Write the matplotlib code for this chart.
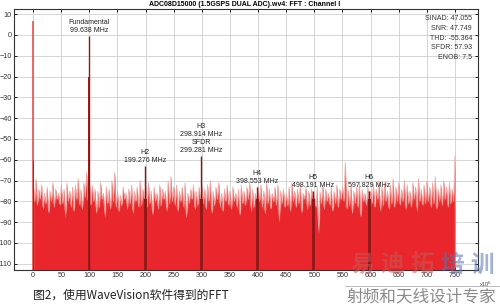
import numpy as np
import matplotlib
matplotlib.use('Agg')
from matplotlib import pyplot as plt

plt.rcParams['font.family'] = ['Liberation Sans', 'DejaVu Sans']

# noise floor: spike tops every 5 MHz (0..750)
peak_db = [
    -70, -69, -74, -72, -76, -73, -75, -71, -74, -76, -72,
    -74, -71, -75, -73, -72, -69, -74, -71, -66, -70,
    -72, -74, -75, -71, -76, -73, -74, -70, -66, -75,
    -77, -73, -76, -74, -72, -75, -73, -70, -74, -72,
    -71, -75, -73, -76, -72, -74, -75, -70, -68, -73,
    -72, -75, -73, -71, -76, -74, -72, -75, -73, -72,
    -74, -72, -70, -75, -73, -71, -76, -74, -72, -75,
    -73, -76, -74, -72, -75, -73, -71, -74, -76, -73,
    -72, -75, -71, -74, -76, -73, -72, -75, -74, -76,
    -73, -71, -75, -74, -72, -76, -73, -75, -74, -77,
    -73, -75, -72, -74, -76, -73, -75, -72, -74, -73,
    -61, -74, -72, -75, -73, -71, -74, -76, -73, -75,
    -72, -74, -70, -73, -71, -75, -72, -69, -73, -71,
    -74, -70, -72, -75, -71, -73, -69, -74, -72, -70,
    -73, -71, -68, -74, -72, -70, -73, -71, -74, -58,
]
# notches between the spikes (2.5, 7.5, ... 747.5 MHz)
valley_db = [
    -80, -82, -79, -84, -81, -86, -80, -83, -79, -82,
    -81, -88, -80, -83, -85, -79, -82, -84, -78, -80,
    -82, -80, -86, -83, -79, -88, -81, -84, -80, -83,
    -85, -82, -79, -84, -81, -86, -80, -83, -82, -79,
    -83, -81, -87, -80, -84, -82, -79, -85, -81, -80,
    -82, -85, -80, -83, -88, -81, -79, -84, -82, -80,
    -81, -84, -80, -86, -82, -79, -83, -85, -80, -82,
    -84, -80, -83, -87, -81, -82, -79, -85, -83, -81,
    -80, -83, -86, -81, -84, -80, -82, -90, -81, -83,
    -82, -85, -80, -83, -81, -86, -79, -84, -82, -80,
    -83, -96, -81, -84, -80, -82, -85, -81, -83, -79,
    -80, -84, -82, -86, -81, -83, -88, -80, -82, -84,
    -81, -83, -79, -85, -82, -80, -84, -81, -83, -80,
    -82, -80, -84, -81, -83, -79, -85, -80, -82, -81,
    -80, -83, -81, -84, -80, -82, -79, -83, -81, -80,
]

# DC, fundamental and harmonics
tone_mhz = [0, 99.638, 199.276, 298.914, 398.553, 498.191, 597.829]
tone_db = [6.8, -0.5, -63, -58, -73, -75, -75]
tone_labels = ['', 'Fundamental\n99.638 MHz', 'H2\n199.276 MHz',
               'H3\n298.914 MHz\nSFDR\n299.281 MHz', 'H4\n398.553 MHz',
               'H5\n498.191 MHz', 'H6\n597.829 MHz']

stats = ['SINAD: 47.055', 'SNR: 47.749', 'THD: -55.364', 'SFDR: 57.93', 'ENOB: 7.5']
xticks = list(range(0, 751, 50))
yticks = list(range(10, -111, -10))

fig = plt.figure(figsize=(5.0, 3.07), dpi=100)
ax = fig.add_axes([0.028, 0.1205, 0.928, 0.8502])
ybot = -113

# interleave spike tops and notches
f_pk = np.arange(len(peak_db)) * 5.0
f_vl = f_pk[:-1] + 2.5
fx = np.empty(len(f_pk) + len(f_vl))
fy = np.empty_like(fx)
fx[0::2] = f_pk
fx[1::2] = f_vl
fy[0::2] = peak_db
fy[1::2] = valley_db
# spikes: red with pale tips; dense body below is solid red
ax.fill_between(fx, ybot, fy, color='#ea3c3a', lw=0, zorder=2)
ax.plot(fx, fy, color='#f49e9a', lw=0.45, zorder=2)
ax.fill_between(f_vl, ybot, valley_db, color='#e8262b', lw=0, zorder=2)

# dark stripes under the tones
for f, db in zip(tone_mhz, tone_db):
    if f == 0:
        ax.vlines(f, ybot, db, color='#e8504c', lw=1.2, zorder=3)
        ax.vlines(f, ybot, -60, color='#9e1b1b', lw=0.6, zorder=3)
        continue
    if db > -10:
        ax.fill_between([f - 2, f + 2], ybot, -20, color='#9a1a1a', lw=0, zorder=3)
    else:
        ax.fill_between([f - 3, f + 3], ybot, -79, color='#9a1a1a', lw=0, zorder=3)
    ax.vlines(f, ybot, db, color='#8c1515', lw=1.0, zorder=3)

for f, db, lab in zip(tone_mhz, tone_db, tone_labels):
    if lab:
        ax.text(f, db + 1, lab, ha='center', va='bottom', fontsize=5,
                color='#222222', linespacing=1.15, zorder=4)

for i, s in enumerate(stats):
    fig.text(0.944, 1 - (19 + i * 9.6) / 307, s, ha='right', va='center',
             fontsize=5, color='#333333')

ax.set_xlim(-34, 791)
ax.set_ylim(ybot, 12.5)
ax.set_xticks(xticks)
ax.set_yticks(yticks)
ax.grid(True, color='#cfcfcf', lw=0.6, zorder=0)
ax.set_axisbelow(True)
ax.tick_params(direction='in', length=2.5, width=0.6, labelsize=5.2,
               labelcolor='#333333', top=True, right=True, pad=1.5)
for sp in ax.spines.values():
    sp.set_linewidth(0.8)
    sp.set_color('#333333')

fig.text(0.49, 1 - 4.5 / 307, 'ADC08D15000 (1.5GSPS DUAL ADC).wv4: FFT : Channel I',
         ha='center', va='center', fontsize=5, fontweight='bold')
fig.text(0.958, 1 - 284 / 307, r'x10$^6$', ha='left', va='center', fontsize=4, color='#444444')

fig.text(0.066, 1 - 295 / 307, '图2，使用WaveVision软件得到的FFT', ha='left', va='center',
         fontsize=8.5, family=['Noto Sans CJK SC', 'DejaVu Sans'], color='#222222')

# watermark, drawn one glyph at a time so it spreads as wide as the original
mark_chars = ['易', '迪', '拓', '培', '训']
mark_colors = ['#c85a5a', '#c85a5a', '#c85a5a', '#5a72b2', '#5a72b2']
for i, (ch, c) in enumerate(zip(mark_chars, mark_colors)):
    fig.text((362 + 30 * i) / 500, 1 - 265 / 307, ch, ha='center', va='center',
             fontsize=17, family=['Noto Sans CJK SC'], color=c, alpha=0.55,
             fontweight='bold')
fig.add_artist(plt.Line2D([0.69, 1.0], [1 - 286 / 307] * 2, color='#b0b0b0', lw=0.6))
fig.text(0.694, 1 - 297 / 307, '射频和天线设计专家', ha='left', va='center', fontsize=12,
         family=['Noto Sans CJK SC'], color='#8a8a8a')

fig.savefig('out.png', dpi=100)
